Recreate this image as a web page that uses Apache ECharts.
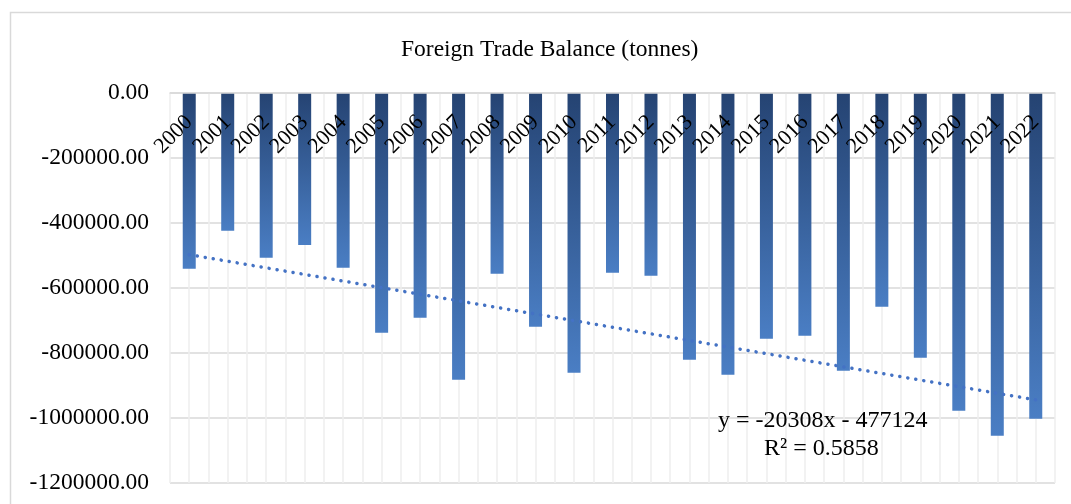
<!DOCTYPE html>
<html>
<head>
<meta charset="utf-8">
<title>Foreign Trade Balance</title>
<script src="https://cdn.jsdelivr.net/npm/echarts@6/dist/echarts.min.js"></script>
<style>
  html, body { margin: 0; padding: 0; background: #fff; }
  #main { width: 1071px; height: 504px; }
</style>
</head>
<body>
<div id="main"></div>
<script>
// data
let years = ['2000', '2001', '2002', '2003', '2004', '2005', '2006', '2007', '2008', '2009', '2010', '2011',
  '2012', '2013', '2014', '2015', '2016', '2017', '2018', '2019', '2020', '2021', '2022']
let balance = [-540600, -423600, -506700, -467700, -537400, -737500, -691300, -882000, -555900, -719000, -860500, -552800,
  -562000, -820500, -866700, -755900, -746700, -854400, -657500, -814400, -977500, -1054400, -1002100]
// linear trend ends (y = -20308x - 477124)
let trendYears = ['2000', '2022']
let trendValues = [-497432, -944208]
let yTicks = [0, -200000, -400000, -600000, -800000, -1000000, -1200000]
let equation = ['y = -20308x - 477124', 'R² = 0.5858']

const serif = "'Times New Roman', 'Liberation Serif', serif"

let option = {
  animation: false,
  backgroundColor: '#fff',
  title: {
    text: 'Foreign Trade Balance (tonnes)',
    left: 396,
    top: 33,
    textStyle: { fontFamily: serif, fontSize: 23.5, fontWeight: 'normal', color: '#000' }
  },
  grid: { left: 170, right: 16, top: 93, bottom: 21 },
  xAxis: [
    {
      // the axis sits at 0, which is the top of the plot; labels hang inside
      type: 'category',
      data: years,
      position: 'top',
      axisLine: { onZero: false, lineStyle: { color: '#d9d9d9', width: 1.5 } },
      axisTick: { show: false },
      axisLabel: {
        inside: true, rotate: -45, margin: 26, interval: 0,
        fontFamily: serif, fontSize: 22, color: '#000'
      },
      splitLine: { show: false },
      z: 5
    },
    {
      // just for the light vertical gridlines (boundaries and centres of the years)
      type: 'value',
      min: 0, max: years.length * 2, interval: 1,
      position: 'bottom',
      axisLine: { show: false },
      axisTick: { show: false },
      axisLabel: { show: false },
      splitLine: { show: true, lineStyle: { color: '#eeeeee', width: 1.5 } }
    }
  ],
  yAxis: {
    type: 'value',
    min: yTicks[yTicks.length - 1],
    max: yTicks[0],
    interval: 200000,
    axisLine: { show: false },
    axisTick: { show: false },
    axisLabel: {
      margin: 21,
      fontFamily: serif, fontSize: 23.5, color: '#000',
      formatter: v => v.toFixed(2)
    },
    splitLine: { lineStyle: { color: '#d9d9d9', width: 1.5 } }
  },
  series: [
    {
      type: 'bar',
      data: balance,
      barWidth: 13,
      itemStyle: {
        color: new echarts.graphic.LinearGradient(0, 0, 0, 1, [
          { offset: 0, color: '#254372' },
          { offset: 1, color: '#4a7ec4' }
        ])
      },
      z: 2
    },
    {
      type: 'line',
      data: trendYears.map((y, i) => [y, trendValues[i]]),
      symbol: 'none',
      lineStyle: { color: '#4472c4', width: 3.5, type: [0.1, 8], cap: 'round' },
      z: 3
    }
  ],
  graphic: [
    {
      type: 'rect',
      shape: { x: 10.5, y: 12.5, width: 1080, height: 520 },
      style: { fill: 'none', stroke: '#d9d9d9', lineWidth: 1.5 },
      z: -1
    },
    {
      type: 'text', left: 718, top: 409, z: 10,
      style: { text: equation[0], fontFamily: serif, fontSize: 24, fill: '#000' }
    },
    {
      type: 'text', left: 764, top: 437, z: 10,
      style: { text: equation[1], fontFamily: serif, fontSize: 24, fill: '#000' }
    }
  ]
}

let myChart = echarts.init(document.getElementById('main'))
myChart.setOption(option)
</script>
</body>
</html>
